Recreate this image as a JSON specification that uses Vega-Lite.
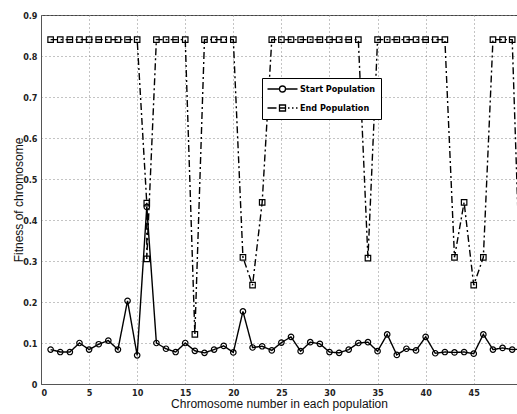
{
  "$schema": "https://vega.github.io/schema/vega-lite/v6.json",
  "width": 476,
  "height": 369,
  "autosize": {"type": "none"},
  "padding": {"left": 41, "top": 15, "right": 0, "bottom": 30},
  "background": "white",
  "config": {
    "view": {"stroke": "#444", "strokeWidth": 1},
    "axis": {
      "labelFont": "DejaVu Sans Condensed, Liberation Sans Narrow, Liberation Sans, sans-serif",
      "labelFontWeight": "bold",
      "labelFontSize": 9,
      "labelColor": "#222",
      "titleFont": "Liberation Sans, Arial, sans-serif",
      "titleFontWeight": "normal",
      "titleFontSize": 12,
      "titleColor": "#111",
      "grid": true,
      "gridColor": "#888",
      "gridDash": [1, 3],
      "gridOpacity": 1,
      "domainColor": "#555",
      "ticks": false,
      "labelPadding": 4
    }
  },
  "data": {
    "values": [
      {"s": "Start Population", "x": 1, "y": 0.084, "o": 1},
      {"s": "Start Population", "x": 2, "y": 0.078, "o": 2},
      {"s": "Start Population", "x": 3, "y": 0.078, "o": 3},
      {"s": "Start Population", "x": 4, "y": 0.100, "o": 4},
      {"s": "Start Population", "x": 5, "y": 0.084, "o": 5},
      {"s": "Start Population", "x": 6, "y": 0.097, "o": 6},
      {"s": "Start Population", "x": 7, "y": 0.106, "o": 7},
      {"s": "Start Population", "x": 8, "y": 0.084, "o": 8},
      {"s": "Start Population", "x": 9, "y": 0.203, "o": 9},
      {"s": "Start Population", "x": 10, "y": 0.070, "o": 10},
      {"s": "Start Population", "x": 11, "y": 0.432, "o": 11},
      {"s": "Start Population", "x": 12, "y": 0.100, "o": 12},
      {"s": "Start Population", "x": 13, "y": 0.086, "o": 13},
      {"s": "Start Population", "x": 14, "y": 0.078, "o": 14},
      {"s": "Start Population", "x": 15, "y": 0.100, "o": 15},
      {"s": "Start Population", "x": 16, "y": 0.081, "o": 16},
      {"s": "Start Population", "x": 17, "y": 0.076, "o": 17},
      {"s": "Start Population", "x": 18, "y": 0.084, "o": 18},
      {"s": "Start Population", "x": 19, "y": 0.093, "o": 19},
      {"s": "Start Population", "x": 20, "y": 0.077, "o": 20},
      {"s": "Start Population", "x": 21, "y": 0.177, "o": 21},
      {"s": "Start Population", "x": 22, "y": 0.089, "o": 22},
      {"s": "Start Population", "x": 23, "y": 0.092, "o": 23},
      {"s": "Start Population", "x": 24, "y": 0.082, "o": 24},
      {"s": "Start Population", "x": 25, "y": 0.101, "o": 25},
      {"s": "Start Population", "x": 26, "y": 0.115, "o": 26},
      {"s": "Start Population", "x": 27, "y": 0.080, "o": 27},
      {"s": "Start Population", "x": 28, "y": 0.102, "o": 28},
      {"s": "Start Population", "x": 29, "y": 0.098, "o": 29},
      {"s": "Start Population", "x": 30, "y": 0.078, "o": 30},
      {"s": "Start Population", "x": 31, "y": 0.076, "o": 31},
      {"s": "Start Population", "x": 32, "y": 0.084, "o": 32},
      {"s": "Start Population", "x": 33, "y": 0.100, "o": 33},
      {"s": "Start Population", "x": 34, "y": 0.102, "o": 34},
      {"s": "Start Population", "x": 35, "y": 0.080, "o": 35},
      {"s": "Start Population", "x": 36, "y": 0.121, "o": 36},
      {"s": "Start Population", "x": 37, "y": 0.071, "o": 37},
      {"s": "Start Population", "x": 38, "y": 0.086, "o": 38},
      {"s": "Start Population", "x": 39, "y": 0.082, "o": 39},
      {"s": "Start Population", "x": 40, "y": 0.115, "o": 40},
      {"s": "Start Population", "x": 41, "y": 0.075, "o": 41},
      {"s": "Start Population", "x": 42, "y": 0.078, "o": 42},
      {"s": "Start Population", "x": 43, "y": 0.077, "o": 43},
      {"s": "Start Population", "x": 44, "y": 0.078, "o": 44},
      {"s": "Start Population", "x": 45, "y": 0.074, "o": 45},
      {"s": "Start Population", "x": 46, "y": 0.121, "o": 46},
      {"s": "Start Population", "x": 47, "y": 0.084, "o": 47},
      {"s": "Start Population", "x": 48, "y": 0.088, "o": 48},
      {"s": "Start Population", "x": 49, "y": 0.084, "o": 49},
      {"s": "Start Population", "x": 50, "y": 0.085, "o": 50},
      {"s": "End Population", "x": 1, "y": 0.84, "o": 1},
      {"s": "End Population", "x": 2, "y": 0.84, "o": 2},
      {"s": "End Population", "x": 3, "y": 0.84, "o": 3},
      {"s": "End Population", "x": 4, "y": 0.84, "o": 4},
      {"s": "End Population", "x": 5, "y": 0.84, "o": 5},
      {"s": "End Population", "x": 6, "y": 0.84, "o": 6},
      {"s": "End Population", "x": 7, "y": 0.84, "o": 7},
      {"s": "End Population", "x": 8, "y": 0.84, "o": 8},
      {"s": "End Population", "x": 9, "y": 0.84, "o": 9},
      {"s": "End Population", "x": 10, "y": 0.84, "o": 10},
      {"s": "End Population", "x": 11, "y": 0.441, "o": 11},
      {"s": "End Population", "x": 11, "y": 0.305, "o": 11.5},
      {"s": "End Population", "x": 12, "y": 0.84, "o": 12},
      {"s": "End Population", "x": 13, "y": 0.84, "o": 13},
      {"s": "End Population", "x": 14, "y": 0.84, "o": 14},
      {"s": "End Population", "x": 15, "y": 0.84, "o": 15},
      {"s": "End Population", "x": 16, "y": 0.121, "o": 16},
      {"s": "End Population", "x": 17, "y": 0.84, "o": 17},
      {"s": "End Population", "x": 18, "y": 0.84, "o": 18},
      {"s": "End Population", "x": 19, "y": 0.84, "o": 19},
      {"s": "End Population", "x": 20, "y": 0.84, "o": 20},
      {"s": "End Population", "x": 21, "y": 0.309, "o": 21},
      {"s": "End Population", "x": 22, "y": 0.241, "o": 22},
      {"s": "End Population", "x": 23, "y": 0.443, "o": 23},
      {"s": "End Population", "x": 24, "y": 0.84, "o": 24},
      {"s": "End Population", "x": 25, "y": 0.84, "o": 25},
      {"s": "End Population", "x": 26, "y": 0.84, "o": 26},
      {"s": "End Population", "x": 27, "y": 0.84, "o": 27},
      {"s": "End Population", "x": 28, "y": 0.84, "o": 28},
      {"s": "End Population", "x": 29, "y": 0.84, "o": 29},
      {"s": "End Population", "x": 30, "y": 0.84, "o": 30},
      {"s": "End Population", "x": 31, "y": 0.84, "o": 31},
      {"s": "End Population", "x": 32, "y": 0.84, "o": 32},
      {"s": "End Population", "x": 33, "y": 0.84, "o": 33},
      {"s": "End Population", "x": 34, "y": 0.307, "o": 34},
      {"s": "End Population", "x": 35, "y": 0.84, "o": 35},
      {"s": "End Population", "x": 36, "y": 0.84, "o": 36},
      {"s": "End Population", "x": 37, "y": 0.84, "o": 37},
      {"s": "End Population", "x": 38, "y": 0.84, "o": 38},
      {"s": "End Population", "x": 39, "y": 0.84, "o": 39},
      {"s": "End Population", "x": 40, "y": 0.84, "o": 40},
      {"s": "End Population", "x": 41, "y": 0.84, "o": 41},
      {"s": "End Population", "x": 42, "y": 0.84, "o": 42},
      {"s": "End Population", "x": 43, "y": 0.309, "o": 43},
      {"s": "End Population", "x": 44, "y": 0.443, "o": 44},
      {"s": "End Population", "x": 45, "y": 0.241, "o": 45},
      {"s": "End Population", "x": 46, "y": 0.309, "o": 46},
      {"s": "End Population", "x": 47, "y": 0.84, "o": 47},
      {"s": "End Population", "x": 48, "y": 0.84, "o": 48},
      {"s": "End Population", "x": 49, "y": 0.84, "o": 49},
      {"s": "End Population", "x": 50, "y": 0.13, "o": 50}
    ]
  },
  "encoding": {
    "x": {
      "field": "x",
      "type": "quantitative",
      "scale": {"domain": [0, 49.5], "nice": false, "zero": false},
      "axis": {
        "values": [0, 5, 10, 15, 20, 25, 30, 35, 40, 45],
        "title": "Chromosome number in each population",
        "titlePadding": 1
      }
    },
    "y": {
      "field": "y",
      "type": "quantitative",
      "scale": {"domain": [0, 0.9], "nice": false},
      "axis": {
        "values": [0, 0.1, 0.2, 0.3, 0.4, 0.5, 0.6, 0.7, 0.8, 0.9],
        "labelExpr": "datum.value == 0 ? '0' : format(datum.value, '.1f')",
        "title": "Fitness of chromosome",
        "titleX": -16
      }
    }
  },
  "layer": [
    {
      "mark": {"type": "line", "clip": true, "color": "black", "strokeWidth": 1.4},
      "encoding": {
        "strokeDash": {
          "field": "s",
          "type": "nominal",
          "scale": {"domain": ["Start Population", "End Population"], "range": [[1, 0], [7, 3, 2, 3]]},
          "legend": null
        },
        "order": {"field": "o", "type": "quantitative"}
      }
    },
    {
      "mark": {"type": "point", "clip": true, "filled": false, "strokeWidth": 1.2, "size": 30, "opacity": 1},
      "encoding": {
        "shape": {
          "field": "s",
          "type": "nominal",
          "scale": {"domain": ["Start Population", "End Population"], "range": ["circle", "square"]},
          "legend": null
        },
        "color": {
          "field": "s",
          "type": "nominal",
          "scale": {"domain": ["End Population", "Start Population"], "range": ["black", "black"]},
          "legend": {
            "orient": "none",
            "legendX": 221,
            "legendY": 63,
            "title": null,
            "values": ["Start Population", "End Population"],
            "strokeColor": "black",
            "fillColor": "white",
            "padding": 5,
            "rowPadding": 7,
            "labelFont": "DejaVu Sans Condensed, Liberation Sans Narrow, Liberation Sans, sans-serif",
            "labelFontWeight": "bold",
            "labelFontSize": 9,
            "labelColor": "black",
            "symbolSize": 100,
            "labelOffset": 21,
            "symbolType": {"expr": "datum.value == 'Start Population' ? 'M-1.1,0H1.3M2.5,0H4.9M1.3,0A0.6,0.6 0 1,0 2.5,0A0.6,0.6 0 1,0 1.3,0' : 'M-1.1,0H0.7M1.3,-0.6H2.5V0.6H1.3ZM1.3,0H2.5M3.0,0H3.3M3.8,0H4.1M4.6,0H4.9'"},
            "symbolStrokeWidth": 1.3,
            "symbolFillColor": "transparent",
            "symbolOpacity": 1
          }
        }
      }
    }
  ]
}
